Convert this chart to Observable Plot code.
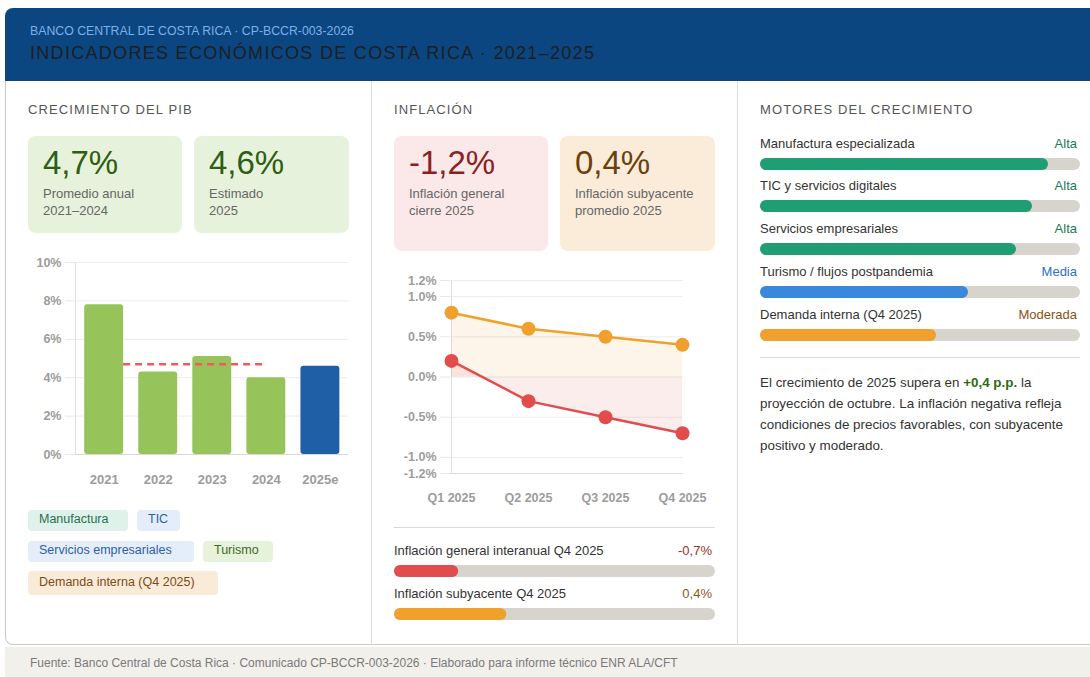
<!DOCTYPE html>
<html lang="es">
<head>
<meta charset="utf-8">
<script src="https://cdn.jsdelivr.net/npm/d3@7"></script>
<script src="https://cdn.jsdelivr.net/npm/@observablehq/plot@0.6"></script>
<style>
  html, body { margin:0; padding:0; }
  body { width:1090px; height:677px; overflow:hidden; background:#fff; position:relative;
         font-family:"Liberation Sans", Arial, sans-serif; color:#333; }
  .abs { position:absolute; }
  .header { left:5px; top:8px; width:1100px; height:73px; background:#0c4680; border-radius:8px 8px 0 0; }
  .panel { left:5px; top:81px; width:1099px; height:564px; background:#fff; border-left:1px solid #c9c9c9; border-bottom:1px solid #c9c9c9; border-radius:0 0 0 8px; box-sizing:border-box; }
  .vdiv { top:81px; width:1px; height:564px; background:#dcdcdc; }
  .footer { left:5px; top:647px; width:1100px; height:30px; background:#f2f0eb; }
  .sect { font-size:13px; line-height:16px; letter-spacing:1.1px; color:#555; white-space:nowrap; }
  .card { border-radius:8px; }
  .card .num { position:absolute; left:15px; top:10px; font-size:33px; line-height:34px; white-space:nowrap; }
  .card .lab { position:absolute; left:15px; top:49px; font-size:13px; line-height:17px; color:#666; white-space:nowrap; }
  .chip { font-size:12.5px; line-height:21px; padding-left:11px; box-sizing:border-box; border-radius:4px; white-space:nowrap; }
  .rowlab { font-size:13px; line-height:16px; color:#333; white-space:nowrap; }
  .rowval { font-size:13px; line-height:16px; white-space:nowrap; text-align:right; }
  .hr { height:1px; background:#d9d9d9; }
  .noteline { font-size:13.4px; line-height:21px; color:#333; white-space:nowrap; }
  svg { overflow:visible; }
</style>
</head>
<body>
<script>
// ---------- DATA ----------
const headerSub = "BANCO CENTRAL DE COSTA RICA · CP-BCCR-003-2026";
const headerTitle = "INDICADORES ECONÓMICOS DE COSTA RICA · 2021–2025";
const footerText = "Fuente: Banco Central de Costa Rica · Comunicado CP-BCCR-003-2026 · Elaborado para informe técnico ENR ALA/CFT";

const gdpYears = ["2021", "2022", "2023", "2024", "2025e"];
const gdpValues = [7.8, 4.3, 5.1, 4.0, 4.6];
const gdpAverage = 4.7;            // promedio 2021–2024
const gdpAvgFrom = "2021";
const gdpAvgTo = "2024";
const gdpYTicks = [0, 2, 4, 6, 8, 10];

const gdpKpiValues = ["4,7%", "4,6%"];
const gdpKpiLabels = [["Promedio anual", "2021–2024"], ["Estimado", "2025"]];

const chipLabels = ["Manufactura", "TIC", "Servicios empresariales", "Turismo", "Demanda interna (Q4 2025)"];

const inflKpiValues = ["-1,2%", "0,4%"];
const inflKpiLabels = [["Inflación general", "cierre 2025"], ["Inflación subyacente", "promedio 2025"]];

const quarters = ["Q1 2025", "Q2 2025", "Q3 2025", "Q4 2025"];
const inflGeneral = [0.2, -0.3, -0.5, -0.7];
const inflCore = [0.8, 0.6, 0.5, 0.4];
const inflYTicks = [-1.2, -1.0, -0.5, 0, 0.5, 1.0, 1.2];

const inflBarLabels = ["Inflación general interanual Q4 2025", "Inflación subyacente Q4 2025"];
const inflBarTexts = ["-0,7%", "0,4%"];
const inflBarShares = [20, 35];

const motorLabels = ["Manufactura especializada", "TIC y servicios digitales", "Servicios empresariales", "Turismo / flujos postpandemia", "Demanda interna (Q4 2025)"];
const motorLevels = ["Alta", "Alta", "Alta", "Media", "Moderada"];
const motorShares = [90, 85, 80, 65, 55];

const noteFirst = ["El crecimiento de 2025 supera en ", "+0,4 p.p.", " la"];
const noteLines = ["proyección de octubre. La inflación negativa refleja", "condiciones de precios favorables, con subyacente", "positivo y moderado."];

// ---------- STYLE ----------
const C = {
  green: "#97c45a", blue: "#1f5fa6", avg: "#ef5a5a",
  red: "#e34c4c", orange: "#f0a02c", track: "#d7d4cd",
  teal: "#1f9e74", motorBlue: "#3a88de",
  axisText: "#9c9c9c", grid: "#ededed"
};
const chipStyles = [
  {bg:"#def2e9", fg:"#2b6e55"}, {bg:"#e4eefa", fg:"#2f5fa3"},
  {bg:"#e4eefa", fg:"#2f5fa3"}, {bg:"#e7f2dc", fg:"#3c6b1f"},
  {bg:"#faebd8", fg:"#7a4c17"}
];
const levelColors = {"Alta":"#1e7a57", "Media":"#2e6fc0", "Moderada":"#8a5316"};
const motorColors = {"Alta":C.teal, "Media":C.motorBlue, "Moderada":C.orange};
const FONT = "'Liberation Sans', Arial, sans-serif";

const root = document.body;
function el(cls, css, html) {
  const d = document.createElement("div");
  d.className = "abs " + (cls || "");
  Object.assign(d.style, css || {});
  if (html !== undefined) d.innerHTML = html;
  root.appendChild(d);
  return d;
}
function place(node, left, top) {
  const w = el("", {left: left + "px", top: top + "px"});
  w.appendChild(node);
  return w;
}

// ---------- FRAME ----------
el("header");
el("", {left:"30px", top:"24px", fontSize:"12.3px", lineHeight:"15px", color:"#7cb0e8", whiteSpace:"nowrap"}, headerSub);
el("", {left:"30px", top:"43px", fontSize:"18px", lineHeight:"21px", letterSpacing:"1.3px", color:"#1b1f24", whiteSpace:"nowrap"}, headerTitle);
el("panel");
el("vdiv", {left:"371px"});
el("vdiv", {left:"737px"});
el("footer");
el("", {left:"30px", top:"656px", fontSize:"12px", lineHeight:"14px", color:"#7a7a7a", whiteSpace:"nowrap"}, footerText);

// ---------- COLUMN 1 ----------
el("sect", {left:"28px", top:"102px"}, "CRECIMIENTO DEL PIB");
[[28,154],[194,155]].forEach(([x,w], i) => {
  const c = el("card", {left:x+"px", top:"136px", width:w+"px", height:"97px", background:"#e7f2dc"});
  const n = document.createElement("div"); n.className = "num"; n.style.color = "#2f5d12"; n.textContent = gdpKpiValues[i]; c.appendChild(n);
  const l = document.createElement("div"); l.className = "lab"; l.innerHTML = gdpKpiLabels[i].join("<br>"); c.appendChild(l);
});

const gdpData = gdpYears.map((year, i) => ({i, year, v: gdpValues[i]}));
const half = 0.36;
const gdpChart = Plot.plot({
  width: 321, height: 236,
  marginLeft: 47, marginRight: 1, marginTop: 10, marginBottom: 34,
  style: {fontFamily: FONT, fontSize: "12px", overflow: "visible", background: "transparent"},
  x: {domain: [-0.53, 4.52], axis: null},
  y: {domain: [0, 10], axis: null},
  color: {type: "identity"},
  marks: [
    Plot.gridY(gdpYTicks, {stroke: C.grid, strokeOpacity: 1}),
    Plot.axisY(gdpYTicks, {label: null, tickSize: 10, tickPadding: 4, stroke: "#e8e8e8", strokeOpacity: 1,
      fill: C.axisText, fontWeight: "bold", fontSize: 12.5, tickFormat: d => d + "%"}),
    Plot.ruleX([-0.53], {stroke: "#e0e0e0"}),
    Plot.rectY(gdpData, {x1: d => d.i - half, x2: d => d.i + half, y1: 0, y2: "v",
      fill: d => d.year === "2025e" ? C.blue : C.green, rx: 3}),
    Plot.ruleY([0], {stroke: "#d8d8d8"}),
    Plot.ruleY([gdpAverage], {x1: gdpYears.indexOf(gdpAvgFrom) + half, x2: gdpYears.indexOf(gdpAvgTo),
      stroke: C.avg, strokeWidth: 2.5, strokeDasharray: "7,5"}),
    Plot.axisX(gdpData.map(d => d.i), {label: null, tickSize: 0, tickPadding: 20, fill: C.axisText,
      fontWeight: "bold", fontSize: 13, tickFormat: i => gdpYears[i]})
  ]
});
place(gdpChart, 28, 252);

const chipPos = [[28,510,100,21],[137,510,43,21],[28,541,166,21],[203,541,70,21],[28,571,190,24]];
chipLabels.forEach((t, i) => {
  const [x,y,w,h] = chipPos[i];
  el("chip", {left:x+"px", top:y+"px", width:w+"px", height:h+"px", lineHeight:(h-2)+"px",
    background: chipStyles[i].bg, color: chipStyles[i].fg}, t);
});

// ---------- COLUMN 2 ----------
el("sect", {left:"394px", top:"102px"}, "INFLACIÓN");
[[394,154,"#fbe9e9","#8d1f1f"],[560,155,"#faecd9","#6e3f0c"]].forEach(([x,w,bg,fg], i) => {
  const c = el("card", {left:x+"px", top:"136px", width:w+"px", height:"115px", background:bg});
  const n = document.createElement("div"); n.className = "num"; n.style.color = fg; n.textContent = inflKpiValues[i]; c.appendChild(n);
  const l = document.createElement("div"); l.className = "lab"; l.innerHTML = inflKpiLabels[i].join("<br>"); c.appendChild(l);
});

const coreData = quarters.map((q, i) => ({q, v: inflCore[i]}));
const genData = quarters.map((q, i) => ({q, v: inflGeneral[i]}));
const inflChart = Plot.plot({
  width: 321, height: 238,
  marginLeft: 56, marginRight: 32, marginTop: 10, marginBottom: 35,
  style: {fontFamily: FONT, fontSize: "12px", overflow: "visible", background: "transparent"},
  x: {type: "point", domain: quarters, padding: 0, axis: null},
  y: {domain: [-1.2, 1.2], axis: null},
  marks: [
    Plot.gridY(inflYTicks, {stroke: C.grid, strokeOpacity: 1}),
    Plot.axisY(inflYTicks, {label: null, tickSize: 10, tickPadding: 4, stroke: "#e8e8e8", strokeOpacity: 1,
      fill: C.axisText, fontWeight: "bold", fontSize: 12.5, tickFormat: d => d.toFixed(1) + "%"}),
    Plot.ruleX([quarters[0]], {stroke: "#e0e0e0"}),
    Plot.ruleY([-1.2], {stroke: "#dcdcdc"}),
    Plot.areaY(coreData, {x: "q", y1: 0, y2: "v", fill: C.orange, fillOpacity: 0.1}),
    Plot.areaY(genData, {x: "q", y1: 0, y2: "v", fill: C.red, fillOpacity: 0.1}),
    Plot.lineY(coreData, {x: "q", y: "v", stroke: C.orange, strokeWidth: 2.5}),
    Plot.lineY(genData, {x: "q", y: "v", stroke: C.red, strokeWidth: 2.5}),
    Plot.dot(coreData, {x: "q", y: "v", r: 7, fill: C.orange}),
    Plot.dot(genData, {x: "q", y: "v", r: 7, fill: C.red}),
    Plot.axisX(quarters, {label: null, tickSize: 0, tickPadding: 20, fill: C.axisText, fontWeight: "bold", fontSize: 12.5})
  ]
});
place(inflChart, 394, 270);

el("hr", {left:"394px", top:"527px", width:"321px"});

function progress(share, color, width) {
  return Plot.plot({
    width, height: 12, margin: 0,
    style: {overflow: "visible", background: "transparent"},
    x: {domain: [0, 100], axis: null},
    y: {domain: [0, 1], axis: null},
    marks: [
      Plot.rect([100], {x1: 0, x2: d => d, y1: 0, y2: 1, fill: C.track, rx: 6}),
      Plot.rect([share], {x1: 0, x2: d => d, y1: 0, y2: 1, fill: color, rx: 6})
    ]
  });
}

const inflBarColors = [C.red, C.orange];
const inflValColors = ["#9b2c2c", "#8a5a1c"];
inflBarLabels.forEach((t, i) => {
  const cy = 551 + i * 43;
  el("rowlab", {left:"394px", top:(cy-8)+"px"}, t);
  el("rowval", {left:"612px", width:"100px", top:(cy-8)+"px", color: inflValColors[i]}, inflBarTexts[i]);
  place(progress(inflBarShares[i], inflBarColors[i], 321), 394, cy + 14);
});

// ---------- COLUMN 3 ----------
el("sect", {left:"760px", top:"102px"}, "MOTORES DEL CRECIMIENTO");
motorLabels.forEach((t, i) => {
  const cy = 143.5 + i * 42.8;
  el("rowlab", {left:"760px", top:(cy-8)+"px"}, t);
  el("rowval", {left:"977px", width:"100px", top:(cy-8)+"px", color: levelColors[motorLevels[i]]}, motorLevels[i]);
  place(progress(motorShares[i], motorColors[motorLevels[i]], 320), 760, Math.round(cy + 14));
});
el("hr", {left:"760px", top:"357px", width:"320px"});
const first = el("noteline", {left:"760px", top:"372px"});
noteFirst.forEach((t, i) => {
  const s = document.createElement(i === 1 ? "b" : "span");
  if (i === 1) s.style.color = "#2e6a12";
  s.textContent = t;
  first.appendChild(s);
});
noteLines.forEach((t, i) => {
  el("noteline", {left:"760px", top:(393 + i * 21) + "px"}).textContent = t;
});
</script>
</body>
</html>
